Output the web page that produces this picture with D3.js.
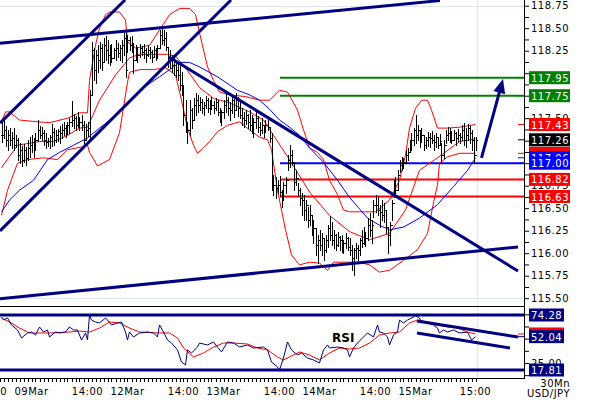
<!DOCTYPE html>
<html>
<head>
<meta charset="utf-8">
<script src="https://cdn.jsdelivr.net/npm/d3@7"></script>
<style>
  body { margin: 0; background: #fff; }
  svg { display: block; font-family: "DejaVu Sans", sans-serif; }
  .lbl { font-size: 10px; letter-spacing: 0.5px; }
</style>
</head>
<body>
<svg id="chart" width="590" height="400"></svg>
<script>
// USD/JPY 30 min bars, 08Mar 16:30 .. 15Mar 15:00
const highs = [117.48,117.49,117.41,117.37,117.39,117.35,117.39,117.31,117.28,117.22,117.19,117.21,117.18,117.26,117.29,117.31,117.28,117.34,117.48,117.41,
117.40,117.37,117.34,117.28,117.31,117.44,117.39,117.37,117.38,117.41,117.44,117.46,117.42,117.46,117.50,117.69,117.55,117.52,117.57,117.51,
117.54,117.47,117.44,117.46,117.81,118.35,118.28,118.26,118.31,118.35,118.32,118.39,118.41,118.37,118.31,118.32,118.28,118.37,118.34,118.31,
118.37,118.46,118.46,118.42,118.40,118.41,118.34,118.31,118.29,118.32,118.30,118.32,118.28,118.31,118.29,118.26,118.30,118.28,118.31,118.48,
118.50,118.48,118.46,118.29,118.26,118.20,118.17,118.15,118.12,118.09,118.01,117.87,117.70,117.46,117.70,117.61,117.72,117.78,117.76,117.74,
117.71,117.68,117.75,117.72,117.70,117.74,117.69,117.72,117.70,117.61,117.59,117.70,117.77,117.74,117.68,117.75,117.71,117.78,117.74,117.70,
117.61,117.57,117.59,117.55,117.59,117.54,117.50,117.57,117.52,117.46,117.50,117.42,117.48,117.52,117.40,117.34,116.87,116.85,116.81,116.86,
116.70,116.79,116.85,117.09,117.20,117.15,117.00,116.92,116.78,116.72,116.67,116.65,116.59,116.51,116.54,116.42,116.37,116.28,116.20,116.26,
116.22,116.17,116.20,116.31,116.41,116.35,116.26,116.21,116.24,116.19,116.20,116.15,116.22,116.18,116.17,116.09,116.06,116.11,116.09,116.17,
116.26,116.29,116.24,116.39,116.45,116.37,116.59,116.65,116.62,116.54,116.59,116.56,116.48,116.29,116.35,116.59,116.81,116.85,116.92,117.04,
117.07,117.06,117.15,117.17,117.26,117.34,117.39,117.54,117.42,117.37,117.39,117.31,117.29,117.35,117.34,117.36,117.31,117.34,117.29,117.32,
117.22,117.26,117.37,117.40,117.39,117.36,117.37,117.35,117.38,117.34,117.42,117.45,117.39,117.44,117.41,117.37,117.29,117.29];
const lows = [117.24,117.28,117.19,117.15,117.20,117.17,117.15,117.18,117.04,117.00,116.97,117.01,116.98,117.04,117.07,117.12,117.07,117.15,117.25,117.28,
117.26,117.20,117.17,117.19,117.17,117.19,117.20,117.24,117.25,117.22,117.28,117.31,117.29,117.32,117.34,117.41,117.39,117.37,117.40,117.37,
117.37,117.18,117.26,117.30,117.26,117.76,117.92,117.89,118.01,118.06,118.04,118.12,118.15,118.11,118.09,118.12,118.17,118.15,118.18,118.15,
118.12,118.20,117.96,118.24,118.26,118.24,118.00,118.15,118.12,118.18,118.20,118.17,118.12,118.19,118.17,118.12,118.18,118.15,118.17,118.29,
118.32,118.31,118.26,118.07,118.06,118.01,117.98,117.96,117.92,117.81,117.76,117.42,117.35,117.22,117.31,117.39,117.48,117.54,117.57,117.59,
117.56,117.54,117.61,117.57,117.55,117.60,117.56,117.59,117.54,117.46,117.42,117.50,117.57,117.54,117.48,117.56,117.51,117.59,117.52,117.50,
117.42,117.40,117.44,117.39,117.37,117.34,117.29,117.39,117.35,117.31,117.34,117.29,117.35,117.37,117.24,116.70,116.65,116.61,116.67,116.64,
116.51,116.59,116.67,116.92,116.96,116.98,116.70,116.76,116.65,116.54,116.42,116.37,116.37,116.29,116.31,116.20,116.11,115.98,115.89,116.04,
115.98,115.92,116.01,116.07,116.15,116.09,116.06,116.04,116.08,116.04,116.01,116.00,116.06,116.04,115.98,115.81,115.76,115.95,115.92,115.98,
116.07,116.10,116.08,116.15,116.19,116.11,116.40,116.46,116.42,116.29,116.37,116.35,116.22,116.00,116.09,116.37,116.62,116.67,116.70,116.90,
116.92,116.95,117.00,117.04,117.12,117.15,117.20,117.22,117.26,117.18,117.24,117.15,117.17,117.19,117.18,117.22,117.15,117.18,117.17,117.20,
117.00,117.06,117.22,117.26,117.24,117.22,117.26,117.20,117.25,117.22,117.26,117.20,117.18,117.26,117.22,117.15,117.01,117.15];
const closes = [117.31,117.37,117.26,117.31,117.26,117.28,117.20,117.26,117.09,117.15,117.04,117.15,117.06,117.17,117.20,117.24,117.17,117.26,117.37,117.31,
117.34,117.26,117.24,117.25,117.29,117.35,117.26,117.31,117.36,117.34,117.37,117.39,117.40,117.42,117.46,117.48,117.50,117.42,117.50,117.46,
117.42,117.26,117.37,117.39,117.76,118.26,118.04,118.20,118.15,118.28,118.12,118.31,118.26,118.20,118.24,118.17,118.26,118.28,118.22,118.28,
118.31,118.39,118.04,118.37,118.31,118.28,118.15,118.26,118.20,118.28,118.24,118.26,118.20,118.26,118.24,118.18,118.26,118.20,118.28,118.42,
118.37,118.39,118.29,118.15,118.18,118.09,118.12,118.04,117.98,117.87,117.84,117.54,117.42,117.37,117.59,117.48,117.65,117.70,117.65,117.68,
117.61,117.65,117.70,117.61,117.67,117.65,117.61,117.68,117.57,117.54,117.57,117.65,117.70,117.61,117.59,117.70,117.59,117.70,117.61,117.54,
117.50,117.48,117.54,117.46,117.42,117.39,117.46,117.50,117.40,117.37,117.42,117.35,117.42,117.40,117.28,116.79,116.76,116.72,116.76,116.68,
116.65,116.76,116.81,117.04,117.09,117.01,116.79,116.84,116.70,116.61,116.59,116.48,116.54,116.37,116.42,116.26,116.28,116.09,116.15,116.09,
116.17,116.04,116.15,116.28,116.20,116.15,116.20,116.09,116.18,116.15,116.09,116.11,116.17,116.07,116.04,115.95,116.04,116.06,116.04,116.15,
116.11,116.24,116.17,116.31,116.26,116.31,116.54,116.54,116.48,116.46,116.42,116.48,116.29,116.20,116.31,116.56,116.76,116.70,116.87,116.98,
117.04,117.01,117.09,117.12,117.20,117.26,117.37,117.31,117.37,117.26,117.31,117.20,117.26,117.29,117.28,117.26,117.24,117.29,117.20,117.25,
117.09,117.20,117.31,117.34,117.29,117.26,117.34,117.28,117.31,117.29,117.37,117.26,117.31,117.39,117.34,117.26,117.09,117.26];

// indicator lines: [bar, value]
const maBlue = [[0,116.46],[4,116.59],[9,116.70],[16,116.81],[23,117.04],[29,117.12],[36,117.20],[43,117.28],[49,117.39],[56,117.51],
[63,117.67],[69,117.81],[79,117.96],[86,118.07],[89,118.12],[94,118.12],[99,118.07],[108,117.96],[118,117.81],[124,117.76],[129,117.70],
[134,117.60],[139,117.48],[144,117.40],[149,117.31],[154,117.17],[161,117.01],[168,116.81],[174,116.62],[183,116.39],[189,116.31],
[194,116.26],[201,116.29],[209,116.39],[218,116.54],[226,116.74],[233,116.92],[237,117.06]];
const bandUpper = [[0,117.46],[2,117.57],[4,117.57],[9,117.48],[18,117.46],[24,117.45],[33,117.50],[39,117.56],[43,117.56],[44,117.92],
[47,118.31],[49,118.50],[52,118.65],[54,118.68],[59,118.68],[62,118.59],[63,118.35],[67,118.28],[74,118.31],[79,118.48],[84,118.65],
[89,118.72],[94,118.72],[97,118.65],[99,118.45],[103,118.07],[106,117.92],[109,117.79],[114,117.76],[122,117.74],[129,117.70],[134,117.70],
[139,117.81],[143,117.79],[148,117.59],[151,117.37],[154,117.17],[158,117.12],[161,117.04],[164,116.81],[168,116.65],[171,116.48],
[174,116.46],[179,116.46],[187,116.46],[194,116.59],[199,116.81],[202,117.09],[204,117.39],[207,117.61],[210,117.70],[213,117.70],
[215,117.59],[218,117.39],[223,117.39],[229,117.40],[237,117.43]];
const bandMid = [[0,116.95],[8,117.20],[19,117.24],[26,117.24],[33,117.31],[39,117.39],[43,117.40],[49,117.70],[57,117.98],[64,118.17],
[69,118.21],[83,118.21],[87,118.19],[92,118.06],[99,117.84],[106,117.72],[114,117.67],[124,117.57],[131,117.48],[136,117.31],[144,117.04],
[154,116.68],[164,116.42],[174,116.24],[184,116.15],[194,116.22],[202,116.48],[209,116.92],[218,117.06],[229,117.24],[237,117.27]];
const bandLower = [[0,116.42],[3,116.70],[8,117.00],[13,117.04],[21,117.06],[28,117.04],[33,117.15],[40,117.18],[43,117.20],[44,117.12],
[48,116.97],[54,117.04],[59,117.34],[63,117.90],[64,118.01],[69,118.04],[76,118.04],[82,118.06],[87,117.98],[90,117.70],[93,117.39],
[96,117.20],[98,117.11],[101,117.17],[104,117.24],[108,117.35],[113,117.42],[119,117.46],[124,117.37],[129,117.29],[133,117.26],
[135,117.15],[138,116.70],[142,116.26],[145,115.98],[149,115.87],[154,115.90],[159,115.89],[163,115.81],[166,115.90],[172,115.90],
[179,115.90],[184,115.87],[189,115.79],[194,115.81],[201,115.92],[208,116.04],[213,116.22],[216,116.56],[218,116.76],[219,117.00],
[223,117.07],[229,117.11],[237,117.11]];

const rsi = [[0,72.2],[1,69.2],[3,71.2],[5,64.0],[8,58.9],[10,50.7],[13,55.8],[15,56.8],[17,53.7],[19,62.0],[21,56.8],[23,58.9],[24,51.7],
[27,56.8],[29,55.8],[32,56.8],[34,62.0],[36,58.9],[38,58.9],[40,48.6],[42,55.8],[43,48.6],[44,74.28],[45,69.1],[47,67.1],[49,66.1],[52,71.2],
[53,69.1],[55,64.0],[58,66.1],[60,67.1],[62,56.8],[63,48.6],[64,56.8],[66,51.7],[69,55.8],[73,56.8],[76,55.8],[78,51.7],[79,64.0],[81,56.8],
[83,48.6],[85,45.5],[88,38.4],[90,26.0],[92,23.0],[93,38.4],[95,35.3],[98,41.4],[99,45.5],[103,43.5],[106,46.6],[108,41.4],[110,36.3],
[113,46.6],[116,45.5],[119,41.4],[123,43.5],[126,40.4],[131,41.4],[133,38.4],[135,26.0],[138,20.9],[139,17.81],[141,30.1],[143,46.6],
[145,38.4],[148,33.2],[150,35.3],[153,30.1],[156,28.1],[159,25.0],[161,38.4],[163,43.5],[164,40.4],[168,41.4],[171,40.4],[173,38.4],
[174,31.2],[176,40.4],[178,45.5],[181,51.7],[183,55.8],[186,51.7],[188,64.0],[189,56.8],[191,55.8],[193,51.7],[194,43.5],[196,53.7],
[198,56.8],[199,69.1],[201,66.1],[203,69.1],[206,72.2],[207,73.5],[209,71.2],[210,67.1],[213,66.1],[216,64.0],[218,60.9],[219,55.8],
[221,58.9],[223,56.8],[226,58.9],[229,55.8],[233,56.8],[235,48.6],[237,52.04]];
const rsiAvg = [[0,71.2],[4,67.1],[9,60.9],[14,55.8],[24,55.8],[34,56.8],[39,57.8],[44,56.8],[49,60.9],[54,67.1],[59,66.1],[64,60.9],
[69,56.8],[79,55.8],[84,55.8],[88,50.7],[91,40.4],[96,31.2],[101,35.3],[106,41.4],[111,45.5],[116,45.5],[123,44.5],[128,40.4],[133,38.4],
[138,31.2],[141,28.1],[144,31.2],[149,36.3],[154,33.2],[159,28.1],[164,35.3],[169,40.4],[174,39.4],[179,40.4],[184,45.5],[189,53.7],
[194,55.8],[199,56.8],[204,66.1],[208,69.1],[213,67.1],[218,64.0],[223,62.0],[228,60.9],[233,56.8],[237,54.8]];

// trend lines drawn by the analyst: [[bar, price],[bar, price]]
const trendLines = [
  [[-0.75,118.332],[219.25,118.807]],
  [[-0.75,117.446],[61.75,118.813]],
  [[-0.75,116.247],[114.75,118.813]],
  [[83.75,118.180],[258.25,115.802]],
  [[-0.75,115.495],[258.25,116.069]]
];
const rsiLines = [ [[207.75,68.12],[258.25,51.69]], [[207.75,55.80],[254.25,40.40]] ];
const rsiLevels = [74.28, 17.81];
const arrow = [[240,117.06],[250.75,117.935]];

const levelValues = [117.95, 117.75, 117.00, 116.82, 116.63];
const levelColors = ["#008000","#008000","#0000ff","#ff0000","#ff0000"];
const levelStart = 139.25;

// labelled price ticks (the others sit under value tags)
const priceTicks = [115.50,115.75,116.00,116.25,116.50,116.75,117.50,118.25,118.50,118.75];
const rsiTicks = [25];

const timeTickBars = [-5, 15, 43, 63, 91, 111, 139, 159, 187, 207, 237];
const timeTickText = ["14:00","09Mar","14:00","12Mar","14:00","13Mar","14:00","14Mar","14:00","15Mar","15:00"];

// right side value tags, back to front
const tagValues = [117.11, 117.06, 117.43, 117.26, 117.00, 116.82, 116.63, 117.75, 117.95];
const tagColors = ["#ff0000","#0000ff","#ff0000","#000000","#0000ff","#ff0000","#ff0000","#008000","#008000"];
const tagShown = [false, true, true, true, true, true, true, true, true];
const rsiTagValues = [54.8, 74.28, 52.04, 17.81];
const rsiTagColors = ["#ff0000","#000080","#000080","#000080"];
const rsiTagShown = [false, true, true, true];

const W = 524, mainBottom = 306, rsiBottom = 378;
const navy = "#000080";

const svg = d3.select("#chart");
const x = d3.scaleLinear().domain([0, 237]).range([1.5, 475.5]);
const y = d3.scaleLinear().domain([115.5, 118.75]).range([298.2, 5.7]);
const yR = d3.scaleLinear().domain([17.81, 74.28]).range([370, 315]);

const defs = svg.append("defs");
defs.append("clipPath").attr("id", "clipMain").append("rect").attr("width", W).attr("height", mainBottom);
defs.append("clipPath").attr("id", "clipRsi").append("rect").attr("y", mainBottom).attr("width", W).attr("height", rsiBottom - mainBottom);

// faint grid
const grid = svg.append("g").attr("stroke", "#dde6ee").attr("stroke-width", 1);
grid.append("line").attr("x1", 0).attr("x2", W).attr("y1", Math.round(y(118.75)) + 0.5).attr("y2", Math.round(y(118.75)) + 0.5);
grid.append("line").attr("x1", 0).attr("x2", W).attr("y1", Math.round(y(115.5)) + 0.5).attr("y2", Math.round(y(115.5)) + 0.5);
grid.append("line").attr("x1", Math.round(x(237)) + 1.5).attr("x2", Math.round(x(237)) + 1.5).attr("y1", 0).attr("y2", rsiBottom);

const main = svg.append("g").attr("clip-path", "url(#clipMain)");

// horizontal levels
main.selectAll(".level").data(levelValues).join("line")
  .attr("x1", x(levelStart)).attr("x2", W)
  .attr("y1", d => y(d)).attr("y2", d => y(d))
  .attr("stroke", (d, i) => levelColors[i]).attr("stroke-width", 2);

const line = d3.line().x(d => x(d[0])).y(d => y(d[1]));
[[bandUpper, "#ff0000"], [bandMid, "#ff0000"], [bandLower, "#ff0000"], [maBlue, "#0000ff"]].forEach(([s, c]) => {
  main.append("path").datum(s).attr("d", line).attr("fill", "none").attr("stroke", c).attr("stroke-width", 1);
});

// OHLC bars
const bars = main.append("g").attr("stroke", "#000").attr("stroke-width", 1).attr("shape-rendering", "crispEdges");
highs.forEach((h, i) => {
  const cx = Math.round(x(i)) + 0.5;
  const op = i > 0 ? closes[i - 1] : closes[0];
  bars.append("line").attr("x1", cx).attr("x2", cx).attr("y1", Math.round(y(h))).attr("y2", Math.round(y(lows[i])) + 1);
  bars.append("line").attr("x1", cx - 1.5).attr("x2", cx).attr("y1", Math.round(y(op)) + 0.5).attr("y2", Math.round(y(op)) + 0.5);
  bars.append("line").attr("x1", cx).attr("x2", cx + 1.5).attr("y1", Math.round(y(closes[i])) + 0.5).attr("y2", Math.round(y(closes[i])) + 0.5);
});

// trend lines
main.selectAll(".trend").data(trendLines).join("line")
  .attr("x1", d => x(d[0][0])).attr("y1", d => y(d[0][1]))
  .attr("x2", d => x(d[1][0])).attr("y2", d => y(d[1][1]))
  .attr("stroke", navy).attr("stroke-width", 3);

// target arrow
const ax1 = x(arrow[0][0]), ay1 = y(arrow[0][1]), ax2 = x(arrow[1][0]), ay2 = y(arrow[1][1]);
const ang = Math.atan2(ay2 - ay1, ax2 - ax1);
svg.append("line").attr("x1", ax1).attr("y1", ay1)
  .attr("x2", ax2 - 10 * Math.cos(ang)).attr("y2", ay2 - 10 * Math.sin(ang))
  .attr("stroke", navy).attr("stroke-width", 3);
const hp = [[ax2, ay2],
  [ax2 - 14 * Math.cos(ang) + 6 * Math.sin(ang), ay2 - 14 * Math.sin(ang) - 6 * Math.cos(ang)],
  [ax2 - 14 * Math.cos(ang) - 6 * Math.sin(ang), ay2 - 14 * Math.sin(ang) + 6 * Math.cos(ang)]];
svg.append("polygon").attr("points", hp.map(p => p.join(",")).join(" ")).attr("fill", navy);

// RSI panel
const rsiG = svg.append("g").attr("clip-path", "url(#clipRsi)");
rsiG.selectAll(".rl").data(rsiLevels).join("line")
  .attr("x1", 0).attr("x2", W).attr("y1", d => yR(d)).attr("y2", d => yR(d))
  .attr("stroke", navy).attr("stroke-width", 3);
const rline = d3.line().x(d => x(d[0])).y(d => yR(d[1]));
rsiG.append("path").datum(rsiAvg).attr("d", rline).attr("fill", "none").attr("stroke", "#ff0000").attr("stroke-width", 1);
rsiG.append("path").datum(rsi).attr("d", rline).attr("fill", "none").attr("stroke", navy).attr("stroke-width", 1);
rsiG.selectAll(".rt").data(rsiLines).join("line")
  .attr("x1", d => x(d[0][0])).attr("y1", d => yR(d[0][1]))
  .attr("x2", d => x(d[1][0])).attr("y2", d => yR(d[1][1]))
  .attr("stroke", navy).attr("stroke-width", 3);
svg.append("text").attr("x", 332).attr("y", 342).attr("font-size", 12).attr("font-weight", "bold").text("RSI");

// panel frame
svg.append("line").attr("x1", 0).attr("x2", W).attr("y1", mainBottom + 0.5).attr("y2", mainBottom + 0.5).attr("stroke", "#000");
svg.append("line").attr("x1", 0).attr("x2", W).attr("y1", rsiBottom + 0.5).attr("y2", rsiBottom + 0.5).attr("stroke", "#000");
svg.append("line").attr("x1", W + 0.5).attr("x2", W + 0.5).attr("y1", 0).attr("y2", rsiBottom + 1).attr("stroke", "#000");

// right price axis
const yAxis = d3.axisRight(y).tickValues(d3.range(115.5, 118.76, 0.125)).tickSize(5)
  .tickFormat(d => priceTicks.includes(+d.toFixed(2)) ? d3.format(".2f")(d) : "");
const gy = svg.append("g").attr("transform", `translate(${W},0)`).call(yAxis);
gy.select(".domain").remove();
gy.selectAll("text").attr("class", "lbl").attr("x", 7).attr("fill", "#000").style("font-family", "DejaVu Sans");

const rAxis = d3.axisRight(yR).tickValues(d3.range(12.5, 76, 12.5)).tickSize(5)
  .tickFormat(d => rsiTicks.includes(d) ? d3.format(".2f")(d) : "");
const gr = svg.append("g").attr("transform", `translate(${W},0)`).call(rAxis);
gr.select(".domain").remove();
gr.selectAll("text").attr("class", "lbl").attr("x", 7).attr("fill", "#000").style("font-family", "DejaVu Sans");

// bottom time axis
const hourBars = d3.range(-1, 238, 2);
svg.append("g").selectAll("line").data(hourBars).join("line")
  .attr("x1", d => Math.round(x(d)) + 0.5).attr("x2", d => Math.round(x(d)) + 0.5)
  .attr("y1", rsiBottom).attr("y2", rsiBottom + 4).attr("stroke", "#000");
svg.append("g").selectAll("text").data(timeTickBars).join("text")
  .attr("class", "lbl").attr("x", d => x(d)).attr("y", 395).attr("text-anchor", "middle")
  .text((d, i) => timeTickText[i]);

// value tags
function tag(v, c, scale, w, showText) {
  const cy = scale(v);
  svg.append("line").attr("x1", 518).attr("x2", W).attr("y1", cy).attr("y2", cy).attr("stroke", c);
  svg.append("rect").attr("x", 529).attr("y", cy - 6.5).attr("width", w).attr("height", 13).attr("fill", c);
  if (showText) svg.append("text").attr("class", "lbl").attr("x", 531).attr("y", cy + 4).attr("fill", "#fff").text(d3.format(".2f")(v));
}
tagValues.forEach((v, i) => tag(v, tagColors[i], y, 41, tagShown[i]));
rsiTagValues.forEach((v, i) => tag(v, rsiTagColors[i], yR, 35, rsiTagShown[i]));

svg.append("text").attr("class", "lbl").attr("x", 570).attr("y", 387).attr("text-anchor", "end").text("30Mn");
svg.append("text").attr("class", "lbl").attr("x", 570).attr("y", 397).attr("text-anchor", "end").text("USD/JPY");
</script>
</body>
</html>
